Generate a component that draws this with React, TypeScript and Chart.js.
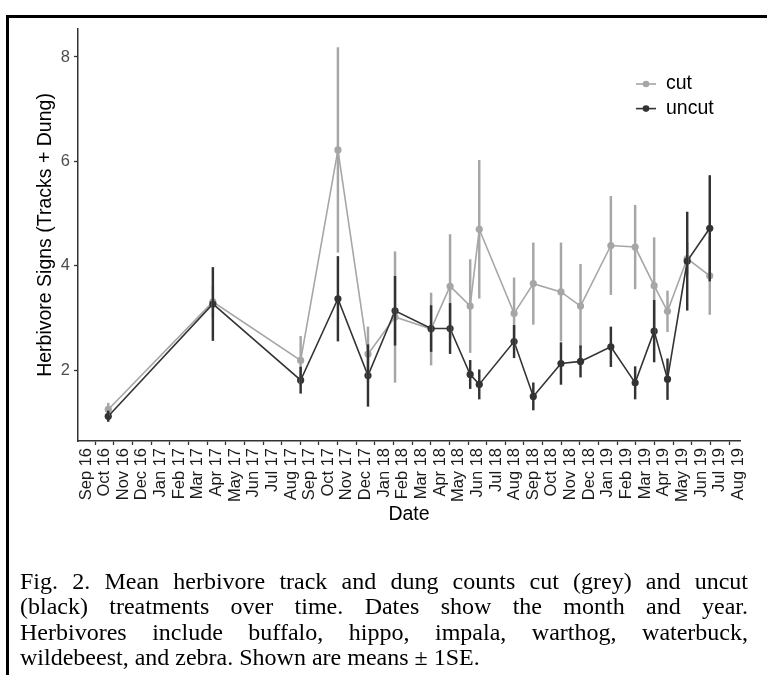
import React, { useEffect, useRef } from "react";
import { Chart, registerables } from "chart.js";

Chart.register(...registerables);

// ---------- data ----------
const monthLabels = [
  "Sep 16", "Oct 16", "Nov 16", "Dec 16",
  "Jan 17", "Feb 17", "Mar 17", "Apr 17", "May 17", "Jun 17", "Jul 17", "Aug 17", "Sep 17", "Oct 17", "Nov 17", "Dec 17",
  "Jan 18", "Feb 18", "Mar 18", "Apr 18", "May 18", "Jun 18", "Jul 18", "Aug 18", "Sep 18", "Oct 18", "Nov 18", "Dec 18",
  "Jan 19", "Feb 19", "Mar 19", "Apr 19", "May 19", "Jun 19", "Jul 19", "Aug 19",
];

const surveyDates = [
  "2016-10-07", "2017-03-26", "2017-08-17", "2017-10-17", "2017-12-05",
  "2018-01-19", "2018-03-17", "2018-04-17", "2018-05-20", "2018-06-04",
  "2018-07-31", "2018-09-01", "2018-10-16", "2018-11-17", "2019-01-06",
  "2019-02-14", "2019-03-16", "2019-04-07", "2019-05-09", "2019-06-15",
];

const cutMean = [1.25, 3.31, 2.19, 6.22, 2.31, 3.02, 2.79, 3.61, 3.23, 4.70, 3.09, 3.66, 3.50, 3.23, 4.39, 4.36, 3.62, 3.13, 4.14, 3.81];
const cutSE = [0.12, 0.30, 0.46, 1.96, 0.52, 1.25, 0.69, 0.99, 0.89, 1.32, 0.68, 0.78, 0.94, 0.80, 0.94, 0.80, 0.92, 0.39, 0.30, 0.74];

const uncutMean = [1.12, 3.27, 1.81, 3.37, 1.90, 3.14, 2.80, 2.80, 1.92, 1.73, 2.55, 1.50, 2.13, 2.17, 2.45, 1.76, 2.75, 1.83, 4.09, 4.72];
const uncutSE = [0.10, 0.70, 0.25, 0.81, 0.59, 0.66, 0.44, 0.48, 0.27, 0.28, 0.31, 0.26, 0.40, 0.30, 0.38, 0.31, 0.59, 0.39, 0.94, 1.01];

const yTicks = [2, 4, 6, 8];

const seriesNames = ["cut", "uncut"];

const captionLines = [
  "Fig. 2. Mean herbivore track and dung counts cut (grey) and uncut",
  "(black) treatments over time. Dates show the month and year.",
  "Herbivores include buffalo, hippo, impala, warthog, waterbuck,",
  "wildebeest, and zebra. Shown are means \u00b1 1SE.",
];

// ---------- styling ----------
const CUT_COLOR = "#A6A6A6";
const UNCUT_COLOR = "#333333";
const SANS = '"Liberation Sans", Arial, sans-serif';

function toMonthIndex(date: string): number {
  const [y, m, d] = date.split("-").map(Number);
  const dim = new Date(y, m, 0).getDate();
  return (y - 2016) * 12 + (m - 1) - 8 + (d - 1) / dim;
}

const legendPlugin = {
  id: "lineLegend",
  afterDraw(chart: any) {
    const ctx = chart.ctx as CanvasRenderingContext2D;
    const area = chart.chartArea;
    const colors = [CUT_COLOR, UNCUT_COLOR];
    const x0 = area.right - 104;
    const y0 = area.top + 55;
    ctx.save();
    seriesNames.forEach((name, i) => {
      const y = y0 + i * 24.6;
      ctx.strokeStyle = colors[i];
      ctx.lineWidth = 1.6;
      ctx.beginPath();
      ctx.moveTo(x0, y);
      ctx.lineTo(x0 + 20, y);
      ctx.stroke();
      ctx.fillStyle = colors[i];
      ctx.beginPath();
      ctx.arc(x0 + 10, y, 3.3, 0, Math.PI * 2);
      ctx.fill();
      ctx.fillStyle = "#000";
      ctx.font = `19.5px ${SANS}`;
      ctx.textBaseline = "middle";
      ctx.textAlign = "left";
      ctx.fillText(name, x0 + 30, y);
    });
    ctx.restore();
  },
};

function ChartCanvas() {
  const ref = useRef<HTMLCanvasElement | null>(null);

  useEffect(() => {
    const xs = surveyDates.map(toMonthIndex);
    const pts = (means: number[]) => xs.map((x, i) => ({ x, y: means[i] }));
    const bars = (means: number[], se: number[]) =>
      xs.map((x, i) => ({ x, y: [means[i] - se[i], means[i] + se[i]] }));

    const chart = new Chart(ref.current as HTMLCanvasElement, {
      type: "line",
      data: {
        datasets: [
          {
            type: "bar",
            label: "uncut SE",
            data: bars(uncutMean, uncutSE) as any,
            backgroundColor: UNCUT_COLOR,
            borderWidth: 0,
            barThickness: 1.8,
            grouped: false,
            order: 0,
          } as any,
          {
            type: "bar",
            label: "cut SE",
            data: bars(cutMean, cutSE) as any,
            backgroundColor: CUT_COLOR,
            borderWidth: 0,
            barThickness: 1.8,
            grouped: false,
            order: 1,
          } as any,
          {
            type: "line",
            label: seriesNames[1],
            data: pts(uncutMean),
            borderColor: UNCUT_COLOR,
            backgroundColor: UNCUT_COLOR,
            pointBackgroundColor: UNCUT_COLOR,
            borderWidth: 1.6,
            pointRadius: 3.6,
            pointBorderWidth: 0,
            tension: 0,
            order: 2,
          },
          {
            type: "line",
            label: seriesNames[0],
            data: pts(cutMean),
            borderColor: CUT_COLOR,
            backgroundColor: CUT_COLOR,
            pointBackgroundColor: CUT_COLOR,
            borderWidth: 1.6,
            pointRadius: 3.6,
            pointBorderWidth: 0,
            tension: 0,
            order: 3,
          },
        ],
      },
      options: {
        animation: false,
        responsive: false,
        maintainAspectRatio: false,
        devicePixelRatio: 1,
        layout: { padding: { left: 30, top: 29, right: 27, bottom: 0 } },
        plugins: {
          legend: { display: false },
          tooltip: { enabled: false },
        },
        scales: {
          x: {
            type: "linear",
            min: -0.43,
            max: 35.09,
            offset: false,
            grid: {
              display: true,
              drawOnChartArea: false,
              drawTicks: true,
              tickLength: 4,
              tickColor: "#333333",
              tickWidth: 1.3,
            },
            border: { display: true, color: "#333333", width: 1.5 },
            ticks: {
              autoSkip: false,
              maxRotation: 90,
              minRotation: 90,
              padding: 3,
              color: "#1a1a1a",
              font: { family: SANS, size: 16.5 },
              callback: (v: any) => monthLabels[Math.round(Number(v))] ?? "",
            },
            afterBuildTicks: (s: any) => {
              s.ticks = monthLabels.map((_, i) => ({ value: i }));
            },
            afterFit: (s: any) => {
              s.height = 89;
            },
            title: {
              display: true,
              text: "Date",
              color: "#000000",
              font: { family: SANS, size: 19.5 },
              padding: { top: 0, bottom: 4 },
            },
          },
          y: {
            type: "linear",
            min: 0.646,
            max: 8.536,
            grid: {
              display: true,
              drawOnChartArea: false,
              drawTicks: true,
              tickLength: 4,
              tickColor: "#333333",
              tickWidth: 1.3,
            },
            border: { display: true, color: "#333333", width: 1.5 },
            ticks: {
              padding: 4,
              color: "#4D4D4D",
              font: { family: SANS, size: 16.5 },
              callback: (v: any) => String(v),
            },
            afterBuildTicks: (s: any) => {
              s.ticks = yTicks.map((v) => ({ value: v }));
            },
            afterFit: (s: any) => {
              s.width = 48;
            },
            title: {
              display: true,
              text: "Herbivore Signs (Tracks + Dung)",
              color: "#000000",
              font: { family: SANS, size: 19.5 },
              padding: { top: 4, bottom: 0 },
            },
          },
        },
      },
      plugins: [legendPlugin],
    });

    return () => chart.destroy();
  }, []);

  return (
    <canvas
      ref={ref}
      width={767}
      height={530}
      style={{ position: "absolute", left: 0, top: 0, display: "block" }}
    />
  );
}

export default function App() {
  useEffect(() => {
    document.body.style.margin = "0";
  }, []);

  return (
    <div
      style={{
        position: "relative",
        width: 767,
        height: 675,
        overflow: "hidden",
        background: "#ffffff",
      }}
    >
      <ChartCanvas />
      <div
        style={{
          position: "absolute",
          left: 6,
          top: 15,
          width: 900,
          height: 900,
          borderTop: "3px solid #000",
          borderLeft: "3px solid #000",
          pointerEvents: "none",
        }}
      />
      <div
        style={{
          position: "absolute",
          left: 20,
          top: 569,
          width: 728,
          fontFamily: '"Liberation Serif", "Times New Roman", serif',
          fontSize: 24,
          lineHeight: "25.3px",
          color: "#000",
        }}
      >
        {captionLines.map((line, i) => (
          <div
            key={i}
            style={{
              whiteSpace: "nowrap",
              textAlign: i < captionLines.length - 1 ? "justify" : "left",
              textAlignLast: i < captionLines.length - 1 ? "justify" : "left",
            }}
          >
            {line}
          </div>
        ))}
      </div>
    </div>
  );
}
